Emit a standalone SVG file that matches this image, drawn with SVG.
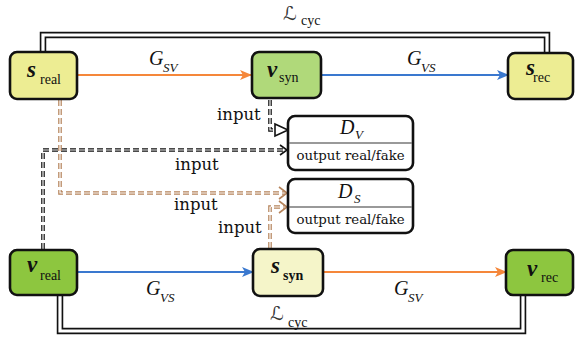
<svg xmlns="http://www.w3.org/2000/svg" width="576" height="342" viewBox="0 0 576 342">
<defs>
<style>
.node{stroke:#111;stroke-width:2.6}
.ylw{fill:#EDED93}
.ylw2{fill:#F5F5C9}
.grn{fill:#8DC63F}
.grn2{fill:#B0D97A}
.var{font-family:"Liberation Serif","DejaVu Serif",serif;font-weight:bold;font-style:italic;font-size:23px;fill:#111}
.sub{font-family:"Liberation Serif","DejaVu Serif",serif;font-size:14px;fill:#111}
.g{font-family:"Liberation Serif","DejaVu Serif",serif;font-style:italic;font-size:20px;fill:#111}
.gs{font-family:"Liberation Serif","DejaVu Serif",serif;font-style:italic;font-size:13px;fill:#111}
.lbl{font-family:"DejaVu Serif","Liberation Serif",serif;font-size:16.5px;fill:#111}
.out{font-family:"DejaVu Serif","Liberation Serif",serif;font-size:13.3px;fill:#111}
.scr{font-family:"DejaVu Serif","DejaVu Sans",serif;font-style:italic;font-size:19px;fill:#333}
.cycO{fill:none;stroke:#111;stroke-width:6.5}
.cycI{fill:none;stroke:#fff;stroke-width:3.2}
.orange{stroke:#F5873A;stroke-width:2;fill:none}
.blue{stroke:#3A78CF;stroke-width:2;fill:none}
.dO{fill:none;stroke:#111;stroke-width:3.6;stroke-dasharray:6 3}
.dI{fill:none;stroke:#fff;stroke-width:1.2;stroke-dasharray:6 3}
.bO{fill:none;stroke:#B5835A;stroke-width:3.6;stroke-dasharray:6 3}
</style>
<marker id="ahO" viewBox="0 0 12 10" refX="11" refY="5" markerWidth="12" markerHeight="10" markerUnits="userSpaceOnUse" orient="auto">
<path d="M0,0 L12,5 L0,10 L3,5 z" fill="#F5873A"/>
</marker>
<marker id="ahB" viewBox="0 0 12 10" refX="11" refY="5" markerWidth="12" markerHeight="10" markerUnits="userSpaceOnUse" orient="auto">
<path d="M0,0 L12,5 L0,10 L3,5 z" fill="#3A78CF"/>
</marker>
</defs>
<rect width="576" height="342" fill="#fff"/>

<g id="connectors">
<!-- cycle loss loops -->
<path class="cycO" d="M43,52 V35 H547 V52"/>
<path class="cycI" d="M43,54 V35 H547 V54"/>
<path class="cycO" d="M60,295 V331 H523 V295"/>
<path class="cycI" d="M60,293 V331 H523 V293"/>
<!-- generators -->
<line class="orange" x1="78" y1="75" x2="251" y2="75" marker-end="url(#ahO)"/>
<line class="blue" x1="322" y1="75" x2="508" y2="75" marker-end="url(#ahB)"/>
<line class="blue" x1="78" y1="272" x2="253" y2="272" marker-end="url(#ahB)"/>
<line class="orange" x1="324" y1="272" x2="506" y2="272" marker-end="url(#ahO)"/>
<!-- discriminator inputs -->
<path class="dO" d="M270,100 V130 H276"/>
<path class="dI" d="M270,100 V130 H276"/>
<path d="M275,124 L288,130 L275,136 Z" fill="#fff" stroke="#111" stroke-width="1.6"/>
<path class="dO" d="M43,249 V150 H285"/>
<path class="dI" d="M43,249 V150 H285"/>
<polyline points="280,145 287,150 280,155" fill="none" stroke="#111" stroke-width="1.6"/>
<path class="bO" d="M60,100 V193 H285"/>
<path class="dI" d="M60,100 V193 H285"/>
<polyline points="279,187 287,193 279,199" fill="none" stroke="#B5835A" stroke-width="1.6"/>
<path class="bO" d="M270,248 V207 H285"/>
<path class="dI" d="M270,248 V207 H285"/>
<polyline points="279,201 287,207 279,213" fill="none" stroke="#B5835A" stroke-width="1.6"/>
<!-- labels -->
<text class="g" x="149" y="65">G</text><text class="gs" x="163" y="72">SV</text>
<text class="g" x="407" y="65">G</text><text class="gs" x="421" y="72">VS</text>
<text class="g" x="146" y="295">G</text><text class="gs" x="160" y="302">VS</text>
<text class="g" x="394" y="295">G</text><text class="gs" x="408" y="302">SV</text>
<text class="scr" x="283" y="20">ℒ</text><text class="sub" x="301" y="25">cyc</text>
<text class="scr" x="270" y="320">ℒ</text><text class="sub" x="288" y="327">cyc</text>
<text class="lbl" x="217" y="120">input</text>
<text class="lbl" x="175" y="170">input</text>
<text class="lbl" x="174" y="210">input</text>
<text class="lbl" x="218" y="233">input</text>
</g>

<g id="s_real">
<rect class="node ylw" x="10" y="52" width="67" height="47" rx="7"/>
<text class="var" x="27" y="77">s</text><text class="sub" x="40" y="84">real</text>
</g>
<g id="v_syn">
<rect class="node grn2" x="252" y="52" width="69" height="46" rx="7"/>
<text class="var" x="267" y="77">v</text><text class="sub" x="279" y="82">syn</text>
</g>
<g id="s_rec">
<rect class="node ylw" x="508" y="53" width="65" height="46" rx="7"/>
<text class="var" x="526" y="75">s</text><text class="sub" x="533" y="82">rec</text>
</g>
<g id="v_real">
<rect class="node grn" x="10" y="250" width="67" height="45" rx="7"/>
<text class="var" x="27" y="272">v</text><text class="sub" x="40" y="280">real</text>
</g>
<g id="s_syn">
<rect class="node ylw2" x="253" y="249" width="70" height="47" rx="7"/>
<text class="var" x="271" y="273">s</text><text class="sub" x="283" y="280" font-weight="bold">syn</text>
</g>
<g id="v_rec">
<rect class="node grn" x="506" y="250" width="67" height="45" rx="7"/>
<text class="var" x="527" y="276">v</text><text class="sub" x="541" y="282">rec</text>
</g>
<g id="D_V">
<rect class="node" fill="#fff" x="288" y="116" width="125" height="54" rx="7"/>
<line x1="289" y1="143" x2="412" y2="143" stroke="#777" stroke-width="1.5"/>
<text class="g" x="340" y="134">D</text><text class="gs" x="355" y="139">V</text>
<text class="out" x="350.5" y="160" text-anchor="middle">output real/fake</text>
</g>
<g id="D_S">
<rect class="node" fill="#fff" x="288" y="179" width="125" height="54" rx="7"/>
<line x1="289" y1="207" x2="412" y2="207" stroke="#777" stroke-width="1.5"/>
<text class="g" x="338" y="198">D</text><text class="gs" x="354" y="203">S</text>
<text class="out" x="350.5" y="224" text-anchor="middle">output real/fake</text>
</g>
</svg>
